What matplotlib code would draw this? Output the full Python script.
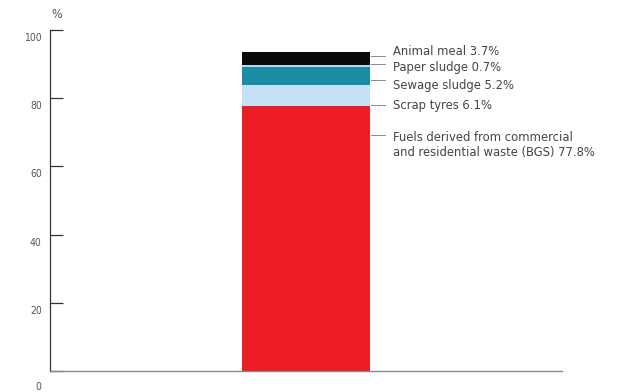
import matplotlib
matplotlib.use("Agg")
import matplotlib.pyplot as plt
import matplotlib.transforms as mtransforms

plt.rcParams["font.family"] = ["DejaVu Sans"]
plt.rcParams["font.stretch"] = "condensed"

# Fuel mix, stacked bottom to top
categories = ["Fuels derived from commercial\nand residential waste (BGS)",
              "Scrap tyres", "Sewage sludge", "Paper sludge", "Animal meal"]
shares = [77.8, 6.1, 5.2, 0.7, 3.7]
colors = ["#ec1d24", "#c4e2f4", "#1b8ca6", "#b8d6eb", "#0a0a0a"]
y_ticks = [0, 20, 40, 60, 80, 100]

# annotation layout: (leader line y, text y) in data units
label_pos = [(69.3, 66.3), (78.0, 78.0), (85.3, 83.8), (90.0, 88.9), (92.4, 93.6)]

fig = plt.figure(figsize=(6.32, 3.92), dpi=100)
ax = fig.add_axes([50 / 632, 21 / 392, 512 / 632, 341 / 392])

bottom = 0.0
for cat, val, col in zip(categories, shares, colors):
    ax.bar(0, val, width=0.5, bottom=bottom, color=col, linewidth=0)
    bottom += val

ax.set_xlim(-1, 1)
ax.set_ylim(0, 100)
ax.set_xticks([])
ax.set_yticks(y_ticks)
ax.set_yticklabels([str(t) for t in y_ticks])
ax.tick_params(axis="y", direction="in", length=9, width=0.9, color="#333333",
               labelsize=7.5, labelcolor="#555555", pad=6)
for t, lab in zip(y_ticks, ax.get_yticklabels()):
    drop = 11 if t == 0 else 5
    offset = mtransforms.ScaledTranslation(0, -drop / 72, fig.dpi_scale_trans)
    lab.set_transform(lab.get_transform() + offset)

for side in ("top", "right"):
    ax.spines[side].set_visible(False)
ax.spines["left"].set_color("#333333")
ax.spines["left"].set_linewidth(0.9)
ax.spines["bottom"].set_color("#888888")
ax.spines["bottom"].set_linewidth(1.0)

ax.text(-0.995, 104.5, "%", fontsize=9, color="#555555", ha="left", va="center",
        clip_on=False)

for cat, val, (ly, ty) in zip(categories, shares, label_pos):
    ax.plot([0.255, 0.31], [ly, ly], color="#888888", lw=0.7)
    ax.text(0.34, ty, f"{cat} {val}%", fontsize=9.3, color="#444444",
            ha="left", va="center", linespacing=1.15)

fig.savefig("out.png", dpi=100)
